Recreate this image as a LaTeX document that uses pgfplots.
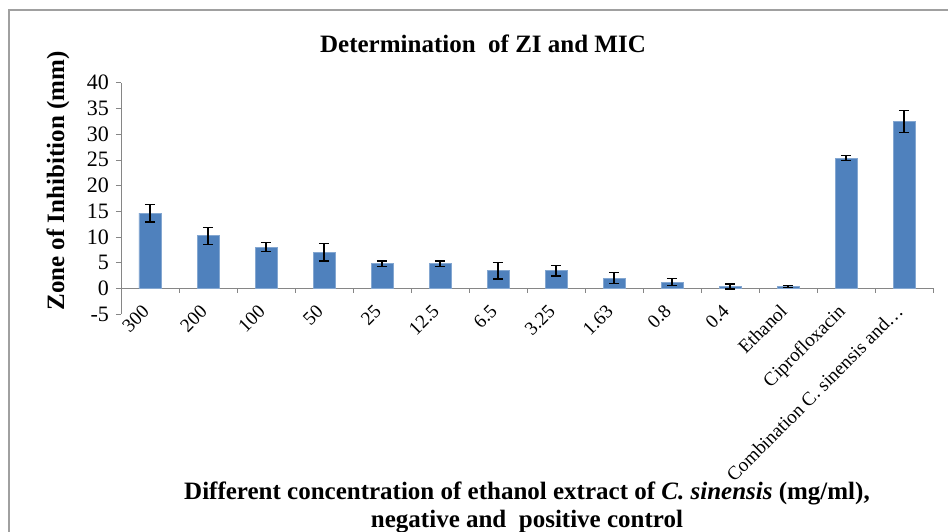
\documentclass[border=0pt]{standalone}
\usepackage{fontspec}
\setmainfont{Liberation Serif}
\usepackage{pgfplots}
\pgfplotsset{compat=1.18}
\definecolor{barblue}{HTML}{4F81BD}
\definecolor{axgray}{HTML}{868686}
\definecolor{framegray}{HTML}{A0A0A0}
\begin{document}
\begin{tikzpicture}
\useasboundingbox (0,0) rectangle (474pt,265.5pt);
\draw[framegray, line width=1pt] (4.5pt,-2pt) -- (4.5pt,260.5pt) -- (476pt,260.5pt);
\node[font=\fontsize{12.5}{15}\selectfont\bfseries] at (241.5pt,243.5pt) {Determination\ \ of ZI and MIC};
\node[font=\fontsize{12.5}{14}\selectfont\bfseries, align=center, anchor=north] at (263.5pt,28pt)
  {Different concentration of ethanol extract of \textit{C. sinensis} (mg/ml),\\negative and\ \ positive control};
\node[font=\fontsize{12.5}{15}\selectfont\bfseries, rotate=90] at (29pt,175pt) {Zone of Inhibition (mm)};
\begin{axis}[
  at={(60.5pt,108.5pt)}, anchor=south west,
  scale only axis, width=406pt, height=115.7pt,
  xmin=-0.5, xmax=13.5, ymin=-5, ymax=40,
  axis y line=left, axis x line=bottom,
  axis line style={-, axgray},
  x axis line style={draw=none},
  ytick={-5,0,...,40},
  ytick style={axgray},
  tick align=outside, major tick length=2.5pt,
  xtick={0,...,13},
  xtick style={draw=none},
  xticklabels={300,200,100,50,25,12.5,6.5,3.25,1.63,0.8,0.4,Ethanol,Ciprofloxacin,{Combination C. sinensis and\ldots}},
  xticklabel style={rotate=45, anchor=south east, inner sep=0pt, text height=6.8pt, text depth=2pt,
    execute at end node={\hspace*{-2.5pt}}, font=\fontsize{9.6}{10}\selectfont},
  yticklabel style={font=\fontsize{11}{12}\selectfont},
  /pgf/number format/assume math mode=true,
  clip=false,
]
\draw[axgray] (axis cs:-0.5,0) -- (axis cs:13.5,0);
\pgfplotsinvokeforeach{0.5,1.5,...,13.5}{\draw[axgray] (axis cs:#1,0) -- ([yshift=-2.5pt]axis cs:#1,0);}
\addplot[ybar, bar width=11pt, fill=barblue, draw=barblue!70!white,
  error bars/.cd, y dir=both, y explicit,
  error bar style={black, line width=0.6pt},
  error mark options={black, rotate=90, mark size=2.6pt, line width=0.6pt}]
coordinates {
 (0,14.6) +- (0,1.7)
 (1,10.2) +- (0,1.7)
 (2,8.0) +- (0,0.9)
 (3,7.0) +- (0,1.7)
 (4,4.8) +- (0,0.5)
 (5,4.8) +- (0,0.5)
 (6,3.4) +- (0,1.6)
 (7,3.4) +- (0,1.0)
 (8,2.0) +- (0,1.0)
 (9,1.2) +- (0,0.7)
 (10,0.35) +- (0,0.5)
 (11,0.35) +- (0,0.2)
 (12,25.3) +- (0,0.5)
 (13,32.4) +- (0,2.1)
};
\end{axis}
\end{tikzpicture}
\end{document}
